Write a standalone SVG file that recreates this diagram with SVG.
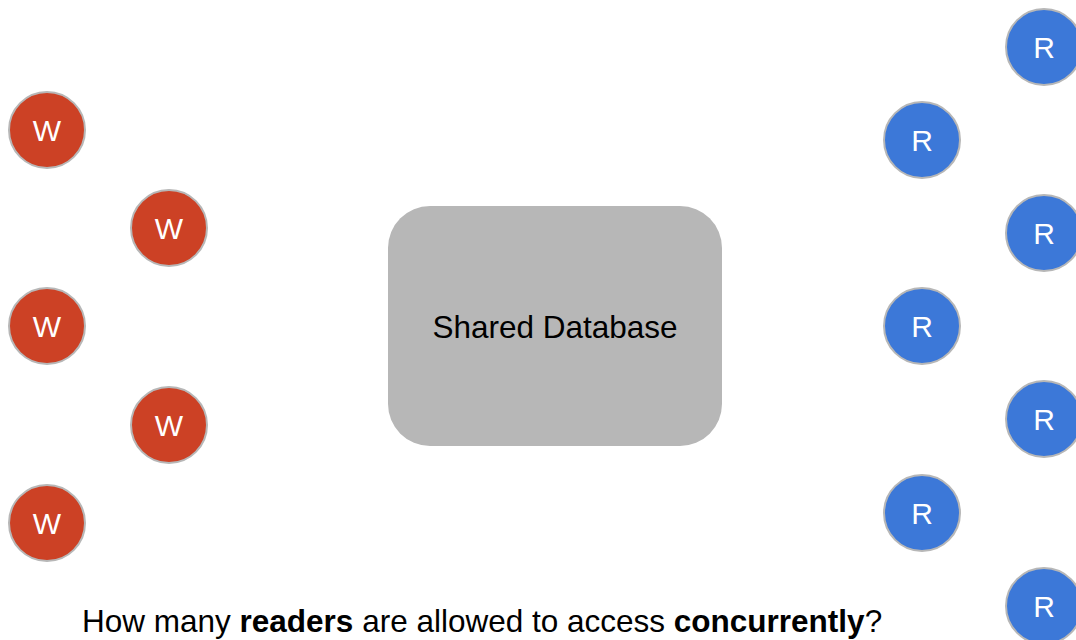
<svg xmlns="http://www.w3.org/2000/svg" width="1076" height="640" viewBox="0 0 1076 640">
<style>
.w{fill:#cc4125;stroke:#b7b7b7;stroke-width:2}
.r{fill:#3c78d8;stroke:#b7b7b7;stroke-width:2}
.lbl{font-family:"Liberation Sans",Arial,sans-serif;font-size:30px;fill:#ffffff;text-anchor:middle;dominant-baseline:central}
.t{font-family:"Liberation Sans",Arial,sans-serif;font-size:31.5px;fill:#000000}
</style>
<rect width="1076" height="640" fill="#ffffff"/>
<g id="connectors"></g>
<g id="db">
<rect x="388" y="206" width="334" height="240" rx="42" fill="#b7b7b7"/>
<text class="t" x="555" y="327" text-anchor="middle" dominant-baseline="central">Shared Database</text>
</g>
<g id="w1"><circle class="w" cx="47" cy="130" r="38"/><text class="lbl" x="47" y="130">W</text></g>
<g id="w2"><circle class="w" cx="169" cy="228" r="38"/><text class="lbl" x="169" y="228">W</text></g>
<g id="w3"><circle class="w" cx="47" cy="326" r="38"/><text class="lbl" x="47" y="326">W</text></g>
<g id="w4"><circle class="w" cx="169" cy="425" r="38"/><text class="lbl" x="169" y="425">W</text></g>
<g id="w5"><circle class="w" cx="47" cy="523" r="38"/><text class="lbl" x="47" y="523">W</text></g>
<g id="r1"><circle class="r" cx="1044" cy="47" r="38"/><text class="lbl" x="1044" y="47">R</text></g>
<g id="r2"><circle class="r" cx="922" cy="140" r="38"/><text class="lbl" x="922" y="140">R</text></g>
<g id="r3"><circle class="r" cx="1044" cy="233" r="38"/><text class="lbl" x="1044" y="233">R</text></g>
<g id="r4"><circle class="r" cx="922" cy="326" r="38"/><text class="lbl" x="922" y="326">R</text></g>
<g id="r5"><circle class="r" cx="1044" cy="419" r="38"/><text class="lbl" x="1044" y="419">R</text></g>
<g id="r6"><circle class="r" cx="922" cy="513" r="38"/><text class="lbl" x="922" y="513">R</text></g>
<g id="r7"><circle class="r" cx="1044" cy="606" r="38"/><text class="lbl" x="1044" y="606">R</text></g>
<g id="caption">
<text class="t" x="82" y="632">How many <tspan font-weight="bold">readers</tspan> are allowed to access <tspan font-weight="bold">concurrently</tspan>?</text>
</g>
</svg>
